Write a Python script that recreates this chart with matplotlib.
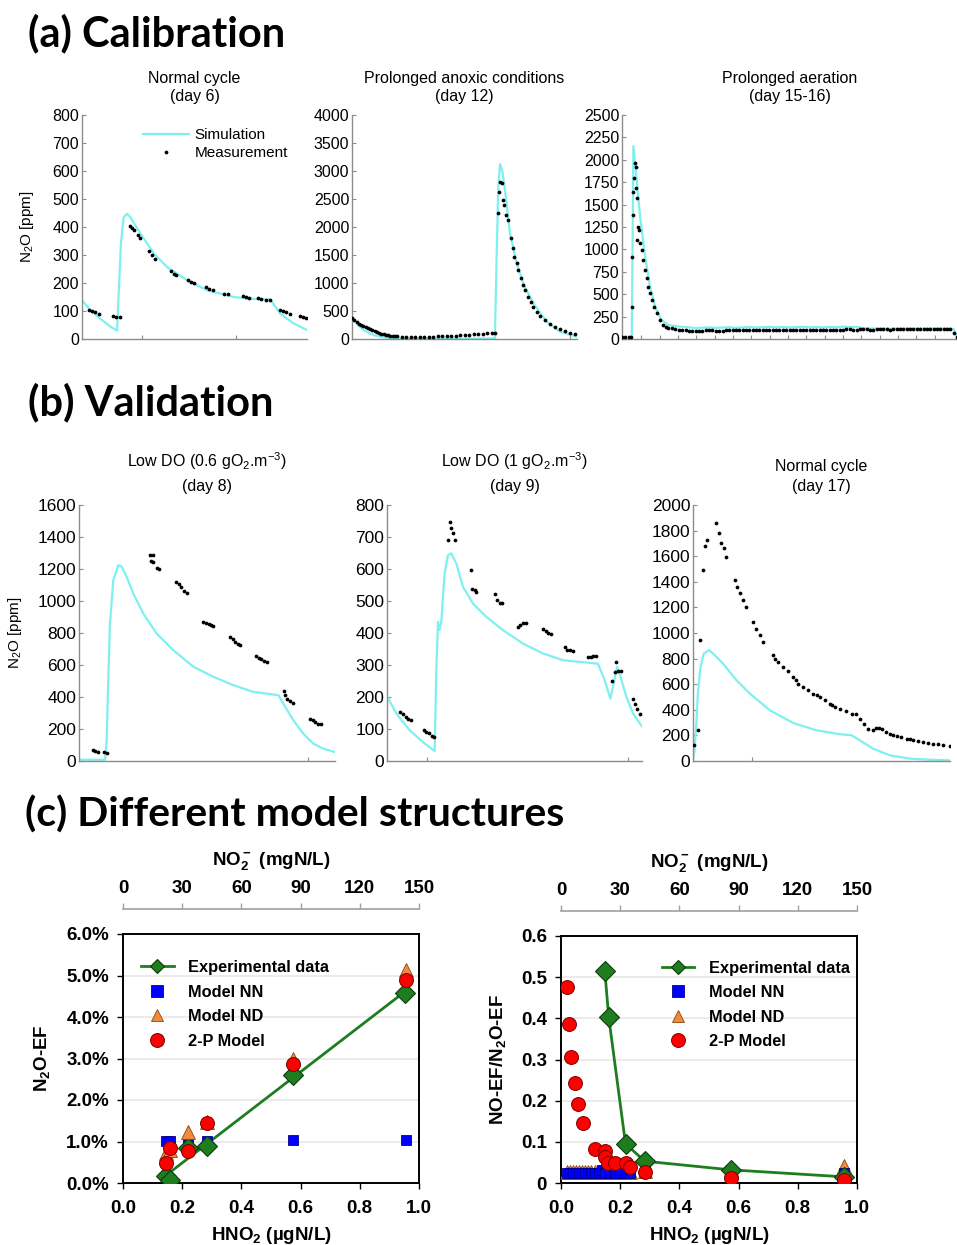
import numpy as np
import matplotlib
matplotlib.use('Agg')
import matplotlib.pyplot as plt
from matplotlib.lines import Line2D

plt.rcParams['font.family'] = ['Liberation Sans', 'DejaVu Sans']
plt.rcParams['mathtext.default'] = 'regular'

# ------------------------------------------------------------------ data
# (a) Calibration -- time axis in relative units (0-100 across each panel)
a1_sim_t = [0, 3.7, 8.1, 12.6, 15.6, 16.3, 17.3, 18.5, 20, 21.5, 26, 32, 37.8, 46.7, 55.6, 67.4, 76, 83.7, 88, 94, 100]
a1_sim_y = [139, 103, 73, 44, 30, 162, 340, 435, 447, 435, 376, 305, 257, 210, 174, 150, 143, 141, 91, 56, 32]
a1_meas_t = [3.0, 4.4, 5.9, 7.4, 13.8, 15.3, 16.7, 21.2, 22.2, 23.3, 24.7, 25.9, 29.9, 31.1, 32.3,
             39.6, 40.7, 41.9, 47.0, 48.4, 49.9, 55.1, 56.6, 58.1, 63.3, 64.7, 71.4, 72.9, 74.4,
             78.1, 79.6, 81.9, 83.4, 87.9, 89.3, 90.8, 92.3, 96.7, 98.2, 99.7]
a1_meas_y = [105, 101, 96, 91, 82, 79, 77, 403, 396, 388, 373, 361, 314, 300, 286,
             243, 233, 228, 210, 205, 200, 184, 179, 174, 162, 159, 153, 151, 148,
             146, 143, 141, 139, 105, 101, 96, 91, 82, 78, 75]

a2_sim_t = [0, 2, 3.4, 5, 8, 10, 15, 20, 30, 40, 50, 60, 63.5, 64.3, 65.0, 65.8, 66.8, 68, 70.2, 73.2, 76.1, 80.6, 86.5, 92.4, 100]
a2_sim_y = [400, 290, 219, 165, 100, 65, 24, 8, 5, 5, 5, 8, 12, 1500, 2700, 3125, 3000, 2661, 1887, 1351, 994, 637, 310, 131, 38]
a2_meas_t = [0, 1, 2, 3, 4, 5, 6, 7, 8, 9, 10, 11, 12, 13, 14, 15, 16, 17, 18, 19, 20, 22, 24, 26, 28, 30,
             32, 34, 36, 38, 40, 42, 44, 46, 48, 50, 52, 54, 56, 58, 60, 62, 63.5,
             65.0, 65.3, 65.8, 66.5, 67.0, 67.6, 68.4, 69.2, 70.5, 71.4, 72.1, 73.2, 73.9, 75.0, 75.9,
             76.9, 78.4, 79.4, 80.6, 82.1, 83.6, 85.8, 88.0, 90.2, 92.4, 94.7, 96.9, 99.1]
a2_meas_y = [367, 335, 305, 275, 250, 228, 207, 188, 170, 152, 137, 122, 108, 96, 86, 77, 69, 62, 56, 51, 47, 43, 41, 40, 40, 40,
             41, 42, 44, 46, 48, 51, 55, 59, 64, 69, 75, 81, 88, 95, 102, 108, 113,
             2256, 2631, 2810, 2780, 2482, 2393, 2214, 2125, 1798, 1620, 1470, 1351, 1232, 1084, 964,
             875, 756, 667, 577, 488, 417, 339, 268, 220, 173, 143, 113, 89]

a3_sim_t = [2.9, 3.2, 3.4, 4.4, 5.4, 6.9, 8.4, 9.9, 11.8, 13.8, 15.8, 17.8, 20, 22, 24, 26, 28, 30, 32, 34, 36, 38,
            40, 42, 44, 46, 48, 50, 52, 54, 56, 58, 60, 62, 64, 66, 68, 70, 72, 76, 80, 85, 90, 95, 98, 99, 100]
a3_sim_y = [5, 1200, 2154, 1775, 1365, 918, 584, 360, 212, 156, 145, 137, 130, 122, 126, 130, 124, 128, 132, 125, 130, 134,
            128, 132, 136, 130, 134, 128, 133, 137, 130, 134, 128, 135, 131, 138, 133, 136, 120, 115, 115, 116, 115, 117, 116, 110, 30]
a3_meas_t = [0, 1, 2, 2.7, 3.1, 3.1, 3.4, 3.4, 3.6, 3.9, 4.1, 4.2, 4.4, 4.5, 4.7, 5.1, 5.4, 5.9, 6.4, 6.9, 7.4, 7.9,
             8.4, 8.9, 9.6, 10.4, 11.3, 12.3, 13.1, 13.8, 14.8, 15.8, 17, 18, 19, 20, 21, 22, 23, 24, 25, 26, 27,
             28, 29, 30, 31, 32,
             33, 34, 35, 36, 37, 38, 39, 40, 41, 42, 43, 44, 45, 46, 47, 48, 49, 50, 51, 52, 53, 54, 55, 56,
             57, 58, 59, 60, 61, 62, 63, 64, 65, 66, 67, 68, 69, 70, 71, 72, 73, 74, 75, 76, 77, 78, 79, 80,
             81, 82, 83, 84, 85, 86, 87, 88, 89, 90, 91, 92, 93, 94, 95, 96, 97, 98, 99, 100]
a3_meas_y = [26, 24, 22, 19, 360, 918, 1384, 1644, 1793, 1961, 1923, 1682, 1570, 1105, 1253, 1216, 1068, 993, 882, 770, 677, 584,
             510, 435, 360, 286, 212, 156, 138, 126, 118, 112, 106, 102, 98, 92, 86, 84, 88, 92, 95, 98, 96,
             92, 90, 94, 97, 99,
             100, 102, 101, 99, 100, 103, 102, 100, 101, 103, 104, 102, 100, 101, 103, 104, 102, 101, 100, 102, 104, 103, 101, 100,
             102, 104, 103, 101, 102, 104, 106, 104, 103, 105, 107, 108, 106, 105, 107, 109, 108, 106, 105, 107, 109, 110, 108, 106,
             107, 109, 110, 108, 107, 109, 111, 112, 110, 109, 111, 113, 114, 112, 113, 115, 114, 112, 70, 25]

# (b) Validation
b1_sim_t = [0, 10.2, 10.8, 11.5, 12.1, 13.4, 15.4, 16.7, 18.6, 21.2, 25.1, 30.3, 36.8, 44.7, 52.5, 60.3, 68.1, 77.9,
            79.8, 83.7, 87.6, 91.5, 95.4, 100]
b1_sim_y = [8, 8, 129, 546, 859, 1130, 1224, 1214, 1151, 1047, 922, 797, 693, 589, 526, 474, 432, 411,
            359, 255, 171, 109, 77, 56]
b1_meas_t = [5.3, 6.4, 7.4, 9.8, 10.8, 27.7, 28.8, 28.0, 29.0, 30.3, 31.1, 37.9, 38.9, 40.0, 41.0, 42.1,
             48.6, 49.6, 50.7, 51.7, 52.5, 59.0, 60.0, 61.1, 62.1, 62.9, 69.1, 70.2, 71.2, 72.3, 73.3,
             80.1, 80.6, 81.4, 82.4, 83.5, 90.2, 91.3, 92.3, 93.4, 94.4]
b1_meas_y = [67, 63, 58, 54, 50, 1288, 1288, 1253, 1246, 1205, 1198, 1121, 1106, 1086, 1065, 1048,
             871, 860, 854, 848, 843, 777, 760, 745, 731, 724, 656, 643, 635, 626, 620,
             438, 411, 390, 376, 365, 265, 255, 244, 234, 230]

b2_sim_t = [0, 3.7, 8.9, 14.1, 18.7, 19.3, 20.0, 20.6, 21.3, 22.6, 23.9, 25.2, 27.2, 29.8, 33.7, 39.0, 45.5, 53.3, 61.2,
            69.0, 82.7, 85.4, 87.6, 88.6, 90.2, 91.2, 93.9, 96.5, 100]
b2_sim_y = [202, 148, 96, 59, 31, 273, 435, 409, 435, 586, 643, 649, 617, 544, 492, 450, 409, 367, 336,
            315, 304, 252, 195, 231, 294, 273, 200, 148, 108]
b2_meas_t = [5.2, 6.3, 7.3, 8.4, 9.4, 14.4, 15.4, 16.5, 17.5, 18.3, 23.9, 24.6, 25.2, 25.9, 26.5,
             33.1, 33.5, 34.5, 35.0, 42.2, 43.3, 44.3, 45.2, 51.4, 52.3, 53.3, 54.4, 61.2, 62.2, 63.3, 64.3,
             69.7, 70.7, 71.8, 72.8, 78.8, 79.9, 80.9, 82.1, 88.4, 89.3, 89.9, 90.7, 91.8, 96.5, 97.3, 98.0, 99.1]
b2_meas_y = [153, 146, 138, 131, 127, 98, 92, 86, 79, 75, 690, 748, 727, 711, 692,
             596, 539, 534, 529, 523, 503, 495, 494, 419, 424, 430, 432, 411, 407, 400, 398,
             355, 348, 346, 345, 325, 326, 327, 328, 250, 278, 310, 282, 282, 195, 179, 164, 148]

b3_sim_t = [0, 0.6, 1.3, 1.9, 2.9, 4.2, 6.2, 7.8, 11.7, 16.9, 22.1, 29.9, 39.0, 48.0, 57.1, 61.7, 64.9, 70.1, 76.6,
            84.4, 92.2, 100]
b3_sim_y = [5, 83, 292, 527, 735, 840, 866, 840, 761, 631, 527, 396, 297, 240, 209, 201, 162, 96, 44, 18, 10, 5]
b3_meas_t = [0.3, 1.9, 2.9, 3.9, 4.5, 5.5, 8.8, 10.1, 11.0, 11.9, 13.0, 16.2, 17.1, 18.2, 19.5, 20.5, 23.4, 24.7,
             26.0, 27.3, 31.2, 32.1, 33.1, 35.1, 37.0, 39.0, 40.0, 40.9, 42.9, 44.8, 46.8, 48.1, 49.4, 51.3,
             53.2, 54.2, 55.2, 57.1, 59.4, 61.7, 63.3, 64.9, 66.5, 68.2, 70.1, 71.4, 72.5, 73.5, 75.0, 76.6,
             78.0, 79.2, 81.0, 83.1, 84.4, 85.7, 87.5, 89.6, 91.5, 93.5, 95.5, 97.4, 100]
b3_meas_y = [123, 245, 944, 1492, 1679, 1726, 1857, 1778, 1700, 1661, 1596, 1413, 1361, 1309, 1257, 1205, 1087, 1035,
             983, 931, 827, 800, 774, 735, 700, 657, 630, 605, 579, 553, 527, 514, 501, 475,
             449, 436, 422, 409, 390, 370, 370, 331, 290, 253, 240, 261, 255, 250, 225, 214,
             205, 193, 185, 175, 168, 162, 155, 149, 142, 136, 130, 123, 115]

# (c) Different model structures -- x: HNO2 (ugN/L)
c1_exp_x = [0.145, 0.160, 0.220, 0.283, 0.573, 0.953]
c1_exp_y = [0.16, 0.08, 0.84, 0.88, 2.60, 4.57]          # N2O-EF (%)
c1_nn_x = [0.145, 0.160, 0.220, 0.283, 0.573, 0.955]
c1_nn_y = [1.02, 1.02, 1.02, 1.02, 1.04, 1.04]
c1_nd_x = [0.145, 0.160, 0.220, 0.283, 0.573, 0.955]
c1_nd_y = [0.72, 0.80, 1.24, 1.48, 3.00, 5.13]
c1_2p_x = [0.145, 0.160, 0.220, 0.283, 0.573, 0.955]
c1_2p_y = [0.48, 0.84, 0.78, 1.44, 2.87, 4.89]

c2_exp_x = [0.148, 0.161, 0.218, 0.283, 0.573, 0.955]
c2_exp_y = [0.516, 0.404, 0.095, 0.053, 0.032, 0.015]     # NO-EF/N2O-EF
c2_nn_x = [0.020, 0.030, 0.040, 0.050, 0.060, 0.070, 0.080, 0.090, 0.100, 0.115, 0.130, 0.140, 0.150,
           0.165, 0.183, 0.200, 0.220, 0.232, 0.284, 0.573, 0.955]
c2_nn_y = [0.025, 0.025, 0.025, 0.025, 0.025, 0.025, 0.025, 0.025, 0.025, 0.025, 0.025, 0.031, 0.025,
           0.025, 0.025, 0.025, 0.025, 0.025, 0.027, 0.028, 0.025]
c2_nd_x = [0.020, 0.030, 0.040, 0.050, 0.060, 0.070, 0.080, 0.090, 0.100, 0.115, 0.130, 0.140, 0.150,
           0.165, 0.183, 0.200, 0.220, 0.232, 0.284, 0.573, 0.955]
c2_nd_y = [0.027, 0.027, 0.027, 0.027, 0.027, 0.027, 0.027, 0.027, 0.027, 0.027, 0.027, 0.030, 0.027,
           0.027, 0.027, 0.027, 0.030, 0.027, 0.028, 0.035, 0.041]
c2_2p_x = [0.020, 0.027, 0.035, 0.046, 0.058, 0.073, 0.115, 0.147, 0.147, 0.160, 0.183, 0.220, 0.234, 0.284, 0.573, 0.955]
c2_2p_y = [0.475, 0.386, 0.307, 0.244, 0.192, 0.145, 0.082, 0.078, 0.064, 0.048, 0.048, 0.048, 0.039, 0.027, 0.013, 0.008]

# ------------------------------------------------------------------ styles
CYAN = '#7FF0F0'
GREY = '#8c8c8c'
GREEN = '#1E7D1E'
W, H = 957.0, 1245.0

fig = plt.figure(figsize=(9.57, 12.45), dpi=100)


def rect(left, top, right, bottom):
    return [left / W, 1 - bottom / H, (right - left) / W, (bottom - top) / H]


def ts_axes(r, ymax, ystep, fs, xt):
    ax = fig.add_axes(r)
    for s in ['top', 'right']:
        ax.spines[s].set_visible(False)
    for s in ['left', 'bottom']:
        ax.spines[s].set_color(GREY)
        ax.spines[s].set_linewidth(1.0)
    ax.set_xlim(0, 100)
    ax.set_ylim(0, ymax)
    ax.set_yticks(np.arange(0, ymax + 1, ystep))
    ax.set_xticks(xt)
    ax.set_xticklabels([])
    ax.tick_params(axis='both', direction='in', length=3, color=GREY, labelsize=fs, pad=2)
    return ax


def draw_ts(ax, st, sy, mt, my):
    ax.plot(st, sy, color=CYAN, lw=1.6, zorder=2)
    ax.plot(mt, my, ls='none', marker='o', ms=2.7, color='black', mec='black', mew=0, zorder=3)


# ---- (a)
fig.text(28 / W, 1 - 33 / H, '(a) Calibration', fontsize=30, fontweight='bold', family='Lato', va='center')
ax = ts_axes(rect(82, 115, 307, 339), 800, 100, 11.5, [26.7, 68.4])
draw_ts(ax, a1_sim_t, a1_sim_y, a1_meas_t, a1_meas_y)
ax.set_title('Normal cycle\n(day 6)', fontsize=11.5, pad=10, linespacing=1.3)
ax.set_ylabel('N$_2$O [ppm]', fontsize=11)
ax.yaxis.set_label_coords(-0.205, 0.5)
hs = [Line2D([], [], color=CYAN, lw=1.6),
      Line2D([], [], ls='none', marker='o', ms=2.7, color='black', mew=0)]
ax.legend(hs, ['Simulation', 'Measurement'], loc='upper left', bbox_to_anchor=(0.27, 0.94),
          frameon=False, fontsize=11, handlelength=3.0, handletextpad=0.4, labelspacing=0.25,
          borderpad=0, borderaxespad=0)

ax = ts_axes(rect(352, 115, 577, 339), 4000, 500, 11.5, [63.6, 96.9])
draw_ts(ax, a2_sim_t, a2_sim_y, a2_meas_t, a2_meas_y)
ax.set_title('Prolonged anoxic conditions\n(day 12)', fontsize=11.5, pad=10, linespacing=1.3)

ax = ts_axes(rect(622, 115, 957, 339), 2500, 250, 11.5, np.arange(5.8, 95, 5.47))
draw_ts(ax, a3_sim_t, a3_sim_y, a3_meas_t, a3_meas_y)
ax.set_title('Prolonged aeration\n(day 15-16)', fontsize=11.5, pad=10, linespacing=1.3)

# ---- (b)
fig.text(28 / W, 1 - 402 / H, '(b) Validation', fontsize=30, fontweight='bold', family='Lato', va='center')
ax = ts_axes(rect(79, 505, 335, 761), 1600, 200, 12.5, [89.5])
draw_ts(ax, b1_sim_t, b1_sim_y, b1_meas_t, b1_meas_y)
ax.set_title('Low DO (0.6 gO$_2$.m$^{-3}$)\n(day 8)', fontsize=11.5, pad=10, linespacing=1.6)
ax.set_ylabel('N$_2$O [ppm]', fontsize=11)
ax.yaxis.set_label_coords(-0.215, 0.5)

ax = ts_axes(rect(387, 505, 642, 761), 800, 100, 12.5, [15.6, 94.5])
draw_ts(ax, b2_sim_t, b2_sim_y, b2_meas_t, b2_meas_y)
ax.set_title('Low DO (1 gO$_2$.m$^{-3}$)\n(day 9)', fontsize=11.5, pad=10, linespacing=1.6)

ax = ts_axes(rect(693, 505, 950, 761), 2000, 200, 12.5, [23.0])
draw_ts(ax, b3_sim_t, b3_sim_y, b3_meas_t, b3_meas_y)
ax.set_title('Normal cycle\n(day 17)', fontsize=11.5, pad=10, linespacing=1.4)

# ---- (c)
fig.text(25 / W, 1 - 815 / H, '(c) Different model structures', fontsize=29.5, fontweight='bold',
         family='Lato', va='center')


def c_axes(r, yticks, ylabels, ylabel, ylab_x):
    ax = fig.add_axes(r)
    for s in ax.spines.values():
        s.set_color('black')
        s.set_linewidth(1.4)
    ax.set_xlim(0, 1)
    ax.set_ylim(yticks[0], yticks[-1])
    xt = [0, 0.2, 0.4, 0.6, 0.8, 1.0]
    ax.set_xticks(xt, labels=['0.0', '0.2', '0.4', '0.6', '0.8', '1.0'], fontweight='bold')
    ax.set_yticks(yticks, labels=ylabels, fontweight='bold')
    ax.tick_params(direction='out', length=4, width=1, labelsize=13.5, pad=6)
    ax.tick_params(axis='x', pad=8)
    ax.grid(axis='y', color='#e8e8e8', lw=1.2)
    ax.set_axisbelow(True)
    ax.set_xlabel('HNO$_2$ (µgN/L)', fontsize=13.5, fontweight='bold', labelpad=6)
    ax.set_ylabel(ylabel, fontsize=13.5, fontweight='bold')
    ax.yaxis.set_label_coords(ylab_x, 0.5)
    sec = ax.secondary_xaxis('top', functions=(lambda x: x * 150, lambda x: x / 150))
    sec.spines['top'].set_position(('outward', 18))
    sec.spines['top'].set_color('#a0a0a0')
    sec.spines['top'].set_linewidth(1.2)
    sec.set_xticks([0, 30, 60, 90, 120, 150], labels=['0', '30', '60', '90', '120', '150'], fontweight='bold')
    sec.tick_params(direction='out', length=4.5, width=1, color='#a0a0a0', labelsize=13.5, pad=4)
    sec.set_xlabel('NO$_2^-$ (mgN/L)', fontsize=13.5, fontweight='bold', labelpad=11)
    return ax


def c_legend(ax, anchor):
    hs = [Line2D([], [], color=GREEN, lw=2, marker='D', ms=7, mfc=GREEN, mec='#0b3d0b', mew=0.8),
          Line2D([], [], ls='none', marker='s', ms=8, mfc='#0000FF', mec='#00008B', mew=0.6),
          Line2D([], [], ls='none', marker='^', ms=9, mfc='#F28A3C', mec='#8B4513', mew=0.6),
          Line2D([], [], ls='none', marker='o', ms=10, mfc='#FF0000', mec='#7a0000', mew=0.7)]
    ax.legend(hs, ['Experimental data', 'Model NN', 'Model ND', '2-P Model'], loc='upper left',
              bbox_to_anchor=anchor, frameon=False, prop={'size': 11.8, 'weight': 'bold'},
              handlelength=2.0, handletextpad=0.9, labelspacing=0.58, borderpad=0, borderaxespad=0)


ax = c_axes(rect(123, 934, 419, 1183), [0, 1, 2, 3, 4, 5, 6],
            ['0.0%', '1.0%', '2.0%', '3.0%', '4.0%', '5.0%', '6.0%'], 'N$_2$O-EF', -0.24)
fit = np.polyfit(c1_exp_x, c1_exp_y, 1)
fx = np.array([c1_exp_x[1], c1_exp_x[-1]])
ax.plot(fx, np.polyval(fit, fx), color=GREEN, lw=2, zorder=2)
ax.plot(c1_nn_x, c1_nn_y, ls='none', marker='s', ms=7, mfc='#0000FF', mec='#00008B', mew=0.6, zorder=3)
ax.plot(c1_exp_x, c1_exp_y, ls='none', marker='D', ms=10, mfc=GREEN, mec='#0b3d0b', mew=0.8, zorder=4)
ax.plot(c1_nd_x, c1_nd_y, ls='none', marker='^', ms=10, mfc='#F28A3C', mec='#8B4513', mew=0.6, zorder=5)
ax.plot(c1_2p_x, c1_2p_y, ls='none', marker='o', ms=10, mfc='#FF0000', mec='#7a0000', mew=0.7, zorder=6)
c_legend(ax, (0.06, 0.895))

ax = c_axes(rect(561, 936, 857, 1183), [0, 0.1, 0.2, 0.3, 0.4, 0.5, 0.6],
            ['0', '0.1', '0.2', '0.3', '0.4', '0.5', '0.6'], 'NO-EF/N$_2$O-EF', -0.18)
ax.plot(c2_nd_x, c2_nd_y, ls='none', marker='^', ms=10, mfc='#F28A3C', mec='#8B4513', mew=0.6, zorder=3)
ax.plot(c2_nn_x, c2_nn_y, ls='none', marker='s', ms=7, mfc='#0000FF', mec='#00008B', mew=0.6, zorder=4)
ax.plot(c2_exp_x, c2_exp_y, color=GREEN, lw=2, marker='D', ms=10, mfc=GREEN, mec='#0b3d0b', mew=0.8, zorder=5)
ax.plot(c2_2p_x, c2_2p_y, ls='none', marker='o', ms=10, mfc='#FF0000', mec='#7a0000', mew=0.7, zorder=6)
c_legend(ax, (0.34, 0.9))

fig.savefig('out.png', dpi=100)
